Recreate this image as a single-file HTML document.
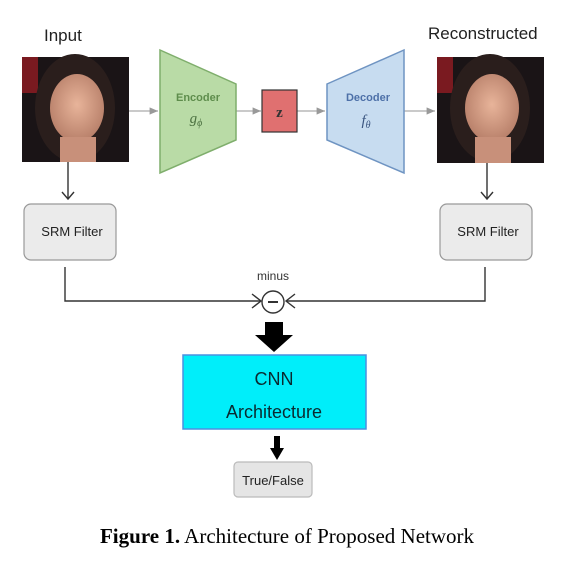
<!DOCTYPE html>
<html><head><style>
body{margin:0;background:#fff;width:572px;height:556px;overflow:hidden;font-family:"Liberation Sans",sans-serif}
</style></head><body>
<svg width="572" height="556" viewBox="0 0 572 556" xmlns="http://www.w3.org/2000/svg">
<defs>
<radialGradient id="sk" cx="50%" cy="45%" r="55%"><stop offset="0" stop-color="#e8b49a"/><stop offset="1" stop-color="#b8806a"/></radialGradient>
<marker id="ga" markerWidth="8" markerHeight="8" refX="7" refY="4" orient="auto"><path d="M0,1 L7,4 L0,7" fill="#999"/></marker>
</defs>
<text x="44" y="41" font-size="17" fill="#222">Input</text>
<text x="428" y="39" font-size="17" fill="#222">Reconstructed</text>
<g>
<rect x="22" y="57" width="107" height="105" fill="#1a1416"/>
<rect x="22" y="57" width="16" height="36" fill="#7a1a20"/>
<ellipse cx="75" cy="108" rx="40" ry="54" fill="#2a1e1c"/>
<ellipse cx="77" cy="108" rx="27" ry="34" fill="url(#sk)"/>
<rect x="60" y="137" width="36" height="25" fill="#c8907a"/>
</g>
<g>
<rect x="437" y="57" width="107" height="106" fill="#1a1416"/>
<rect x="437" y="57" width="16" height="36" fill="#7a1a20"/>
<ellipse cx="490" cy="108" rx="40" ry="54" fill="#2a1e1c"/>
<ellipse cx="492" cy="108" rx="27" ry="34" fill="url(#sk)"/>
<rect x="475" y="137" width="36" height="26" fill="#c8907a"/>
</g>
<line x1="129" y1="111" x2="158" y2="111" stroke="#aaa" stroke-width="1.2" marker-end="url(#ga)"/>
<line x1="236" y1="111" x2="261" y2="111" stroke="#aaa" stroke-width="1.2" marker-end="url(#ga)"/>
<line x1="297" y1="111" x2="325" y2="111" stroke="#aaa" stroke-width="1.2" marker-end="url(#ga)"/>
<line x1="404" y1="111" x2="435" y2="111" stroke="#aaa" stroke-width="1.2" marker-end="url(#ga)"/>
<polygon points="160,50 236,84 236,140 160,173" fill="#b9dba6" stroke="#7fae6c" stroke-width="1.5"/>
<text x="198" y="101" font-size="11" font-weight="bold" fill="#5e8d4c" text-anchor="middle">Encoder</text>
<text x="196" y="123" font-size="15" font-style="italic" font-family="Liberation Serif,serif" fill="#4b7040" text-anchor="middle">g<tspan font-size="10" dy="3">ϕ</tspan></text>
<rect x="262" y="90" width="35" height="42" fill="#e07070" stroke="#333" stroke-width="1.2"/>
<text x="279.5" y="117" font-size="15" font-weight="bold" font-family="Liberation Serif,serif" fill="#333" text-anchor="middle">z</text>
<polygon points="327,84 404,50 404,173 327,140" fill="#c7dcf0" stroke="#6f94c2" stroke-width="1.5"/>
<text x="368" y="101" font-size="11" font-weight="bold" fill="#4d70a8" text-anchor="middle">Decoder</text>
<text x="366" y="125" font-size="15" font-style="italic" font-family="Liberation Serif,serif" fill="#3a5580" text-anchor="middle">f<tspan font-size="10" dy="3">θ</tspan></text>
<g stroke="#333" stroke-width="1.4" fill="none">
<line x1="68" y1="162" x2="68" y2="199"/><path d="M62,192 L68,199 L74,192"/>
<line x1="487" y1="163" x2="487" y2="199"/><path d="M481,192 L487,199 L493,192"/>
<path d="M65,267 V301 H260"/><path d="M252,294 L261,301 L252,308"/>
<path d="M485,267 V301 H287"/><path d="M295,294 L286,301 L295,308"/>
<circle cx="273" cy="302" r="11" fill="#fff"/>
<line x1="268" y1="302" x2="278" y2="302" stroke-width="2"/>
</g>
<rect x="24" y="204" width="92" height="56" rx="7" fill="#ebebeb" stroke="#999" stroke-width="1.2"/>
<text x="72" y="236" font-size="13" fill="#222" text-anchor="middle">SRM Filter</text>
<rect x="440" y="204" width="92" height="56" rx="7" fill="#ebebeb" stroke="#999" stroke-width="1.2"/>
<text x="488" y="236" font-size="13" fill="#222" text-anchor="middle">SRM Filter</text>
<text x="273" y="280" font-size="12" fill="#333" text-anchor="middle">minus</text>
<polygon points="265,322 283,322 283,335 293,335 274,352 255,335 265,335" fill="#000"/>
<rect x="183" y="355" width="183" height="74" fill="#00eefa" stroke="#4a90e0" stroke-width="1.5"/>
<text x="274" y="385" font-size="18" fill="#0a2a30" text-anchor="middle">CNN</text>
<text x="274" y="418" font-size="18" fill="#0a2a30" text-anchor="middle">Architecture</text>
<polygon points="274,436 280,436 280,448 284,448 277,460 270,448 274,448" fill="#000"/>
<rect x="234" y="462" width="78" height="35" rx="4" fill="#e5e5e5" stroke="#bbb" stroke-width="1.2"/>
<text x="273" y="485" font-size="13" fill="#222" text-anchor="middle">True/False</text>
<text x="287" y="543" font-size="21" font-family="Liberation Serif,serif" fill="#000" text-anchor="middle"><tspan font-weight="bold">Figure 1.</tspan> Architecture of Proposed Network</text>
</svg>
</body></html>
